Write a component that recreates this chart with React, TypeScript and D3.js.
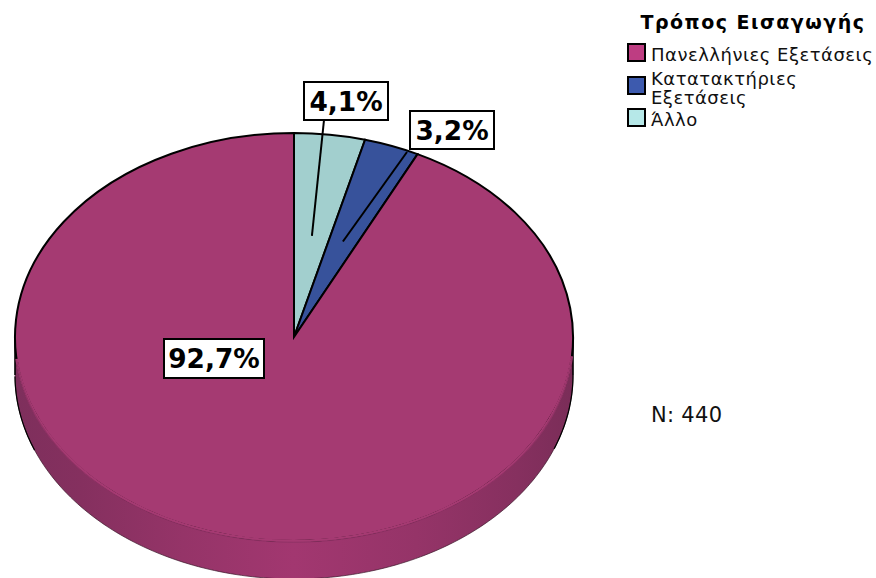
import React from 'react'
import * as d3 from 'd3'

const title = 'Τρόπος Εισαγωγής'
const categories = ['Άλλο', 'Κατατακτήριες Εξετάσεις', 'Πανελλήνιες Εξετάσεις']
const values = [4.1, 3.2, 92.7]
const labels = ['4,1%', '3,2%', '92,7%']
const pieColors = ['#a2cfce', '#37529b', '#a53a72']
const legendColors = ['#b6e8e8', '#3d5aae', '#be3d82']
const legendOrder = [2, 1, 0]
const legendLines = [['Πανελλήνιες Εξετάσεις'], ['Κατατακτήριες', 'Εξετάσεις'], ['Άλλο']]
const note = 'N: 440'

const cx = 294
const cy = 337
const rx = 279
const ry = 204
const depth = 38

export default function App() {
  const slices = d3.pie<number>().sort(null)(values)
  const arc = d3.arc<d3.PieArcDatum<number>>().innerRadius(0).outerRadius(rx)

  // side wall of the disc, front half only
  const side = d3.area<number>()
    .x(t => cx + rx * Math.sin(t))
    .y0(t => cy - ry * Math.cos(t))
    .y1(t => cy - ry * Math.cos(t) + depth)
  const sideAngles = d3.range(Math.PI / 2, (3 * Math.PI) / 2 + 0.01, 0.02)
  const softAngles = d3.range(Math.PI * 0.53, Math.PI * 1.47, 0.02)

  const rim = d3.line<number>().x(t => cx + rx * Math.sin(t)).y(t => cy - ry * Math.cos(t))
  const lowerEdge = d3.line<number>().x(t => cx + rx * Math.sin(t)).y(t => cy - ry * Math.cos(t) + depth)

  const ends = slices.map(s => {
    const [x, y] = arc.centroid(s)
    return [cx + x, cy + (y * ry) / rx]
  })

  const boxes = [
    { x: 304, y: 82, w: 84, h: 38, lx: 324 },
    { x: 410, y: 111, w: 84, h: 38, lx: 407 },
    { x: 164, y: 339, w: 100, h: 39, lx: 0 },
  ]

  return (
    <svg width={876} height={578} style={{ position: 'fixed', left: 0, top: 0, background: '#fff', fontFamily: 'DejaVu Sans' }}>
      <defs>
        <linearGradient id="wall" gradientUnits="userSpaceOnUse" x1={cx - rx} x2={cx + rx} y1={0} y2={0}>
          <stop offset="0" stopColor="#7e2f5c" />
          <stop offset="0.12" stopColor="#85305f" />
          <stop offset="0.3" stopColor="#953468" />
          <stop offset="0.5" stopColor="#a23770" />
          <stop offset="0.72" stopColor="#953468" />
          <stop offset="0.9" stopColor="#86305f" />
          <stop offset="1" stopColor="#7a2d58" />
        </linearGradient>
      </defs>

      <path d={side(sideAngles) as string} fill="url(#wall)" />
      <path d={lowerEdge(sideAngles) as string} fill="none" stroke="#3a1528" strokeWidth={0.7} />
      {/* black edge only survives near the two sides of the wall */}
      <path d={lowerEdge(d3.range(Math.PI * 1.38, Math.PI * 1.5, 0.01)) as string} fill="none" stroke="#000" strokeWidth={1.2} />
      <path d={lowerEdge(d3.range(Math.PI * 0.5, Math.PI * 0.62, 0.01)) as string} fill="none" stroke="#000" strokeWidth={1.2} />
      <path d={`M${cx - rx},${cy}v${depth}M${cx + rx},${cy}v${depth}`} fill="none" stroke="#000" strokeWidth={1.6} />

      <g transform={`translate(${cx},${cy}) scale(1,${ry / rx})`}>
        {slices.map((s, i) => (
          <path key={i} d={arc(s) as string} fill={pieColors[i]} stroke="#000" strokeWidth={2} vectorEffect="non-scaling-stroke" />
        ))}
      </g>
      {/* the lower rim is drawn much softer than the top one */}
      <path d={rim(softAngles) as string} fill="none" stroke="#a53a72" strokeWidth={2.6} />
      <path d={rim(softAngles) as string} fill="none" stroke="#7c2d5a" strokeWidth={0.5} transform="translate(0,1.2)" />

      {slices.map((s, i) =>
        i < 2 ? (
          <line key={i} x1={boxes[i].lx} y1={i === 0 ? boxes[i].y + boxes[i].h : 152} x2={ends[i][0]} y2={ends[i][1]} stroke="#000" strokeWidth={2} />
        ) : null
      )}

      {labels.map((t, i) => (
        <g key={t}>
          <rect x={boxes[i].x} y={boxes[i].y} width={boxes[i].w} height={boxes[i].h} fill="#fff" stroke="#000" strokeWidth={2} />
          <text x={boxes[i].x + boxes[i].w / 2} y={boxes[i].y + 29} textAnchor="middle" fontSize={26.4} fontWeight="bold">{t}</text>
        </g>
      ))}

      <text x={753} y={29} textAnchor="middle" fontSize={19} fontWeight="bold" letterSpacing={1.5}>{title}</text>

      {legendOrder.map((c, i) => {
        const sy = [44, 77, 109][i]
        const ly = [[61], [85, 104], [126]][i]
        return (
          <g key={categories[c]}>
            <rect x={628} y={sy} width={17} height={17} fill={legendColors[c]} stroke="#000" strokeWidth={2} />
            {legendLines[i].map((l, j) => (
              <text key={l} x={651} y={ly[j]} fontSize={18} letterSpacing={0.5} fill="#111">{l}</text>
            ))}
          </g>
        )
      })}

      <text x={651} y={422} fontSize={21} letterSpacing={0.3} fill="#111">{note}</text>
    </svg>
  )
}
